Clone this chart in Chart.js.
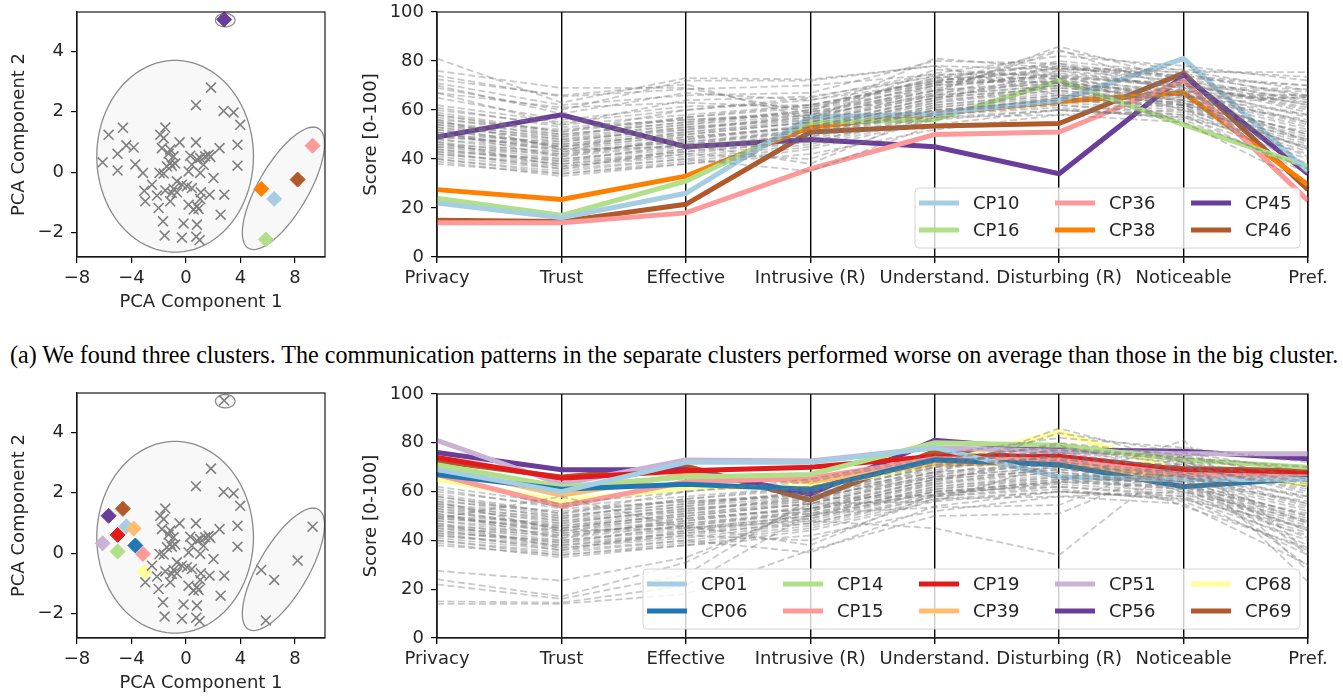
<!DOCTYPE html>
<html>
<head>
<meta charset="utf-8">
<script src="https://cdn.jsdelivr.net/npm/chart.js@4.4.0/dist/chart.umd.min.js"></script>
<style>
  body { margin: 0; background: #fff; width: 1343px; height: 698px; overflow: hidden; position: relative; }
  canvas { position: absolute; }
  #caption { position: absolute; left: 10px; top: 340px; font-family: "Liberation Serif", serif; font-size: 25px;
             line-height: 30px; white-space: nowrap; color: #000; transform-origin: 0 0; }
</style>
</head>
<body>
<canvas id="pcaTop" width="336" height="320" style="left:0;top:0"></canvas>
<canvas id="parTop" width="1003" height="320" style="left:340px;top:0"></canvas>
<div id="caption">(a) We found three clusters. The communication patterns in the separate clusters performed worse on average than those in the big cluster.</div>
<canvas id="pcaBottom" width="336" height="320" style="left:0;top:381px"></canvas>
<canvas id="parBottom" width="1003" height="320" style="left:340px;top:381px"></canvas>
<script>
// ---- data ----
const criteria = ['Privacy', 'Trust', 'Effective', 'Intrusive (R)', 'Understand.', 'Disturbing (R)', 'Noticeable', 'Pref.'];
const scoreTicks = [0, 20, 40, 60, 80, 100];
const pcaXTicks = [-8, -4, 0, 4, 8];
const pcaYTicks = [-2, 0, 2, 4];

// patterns outside the big cluster (highlighted in the first row)
const outlierNames = ['CP10', 'CP16', 'CP36', 'CP38', 'CP45', 'CP46'];
const outlierColors = ['#a6cee3', '#b2df8a', '#fb9a99', '#ff7f00', '#6a3d9a', '#b15928'];
const outlierScores = [
  [22, 16, 26, 57, 58.5, 64, 81, 35],
  [24, 17, 31, 55, 56, 72, 54, 37],
  [14, 14, 18, 36, 50, 51, 72, 23],
  [27.5, 23.5, 33, 53, 58.5, 63.5, 67, 29.5],
  [49, 58, 45, 48, 45, 34, 74, 34],
  [15, 14.5, 21.5, 51, 53.5, 54.5, 75, 27.5]
];
const outlierPCA = [[6.47, -0.88], [5.86, -2.22], [9.29, 0.88], [5.52, -0.55], [2.8, 5.05], [8.19, -0.24]];

// best patterns (highlighted in the second row)
const bestNames = ['CP01', 'CP06', 'CP14', 'CP15', 'CP19', 'CP39', 'CP51', 'CP56', 'CP68', 'CP69'];
const bestColors = ['#a6cee3', '#1f78b4', '#b2df8a', '#fb9a99', '#e31a1c', '#fdbf6f', '#cab2d6', '#6a3d9a', '#ffff99', '#b15928'];
const bestScores = [
  [69, 60, 72, 72, 78, 66, 65, 65],
  [67, 61, 63, 61, 73, 71, 62, 65.5],
  [71, 62, 66, 67, 80, 79, 73, 70],
  [67, 54, 64, 65.5, 73.5, 73, 67, 66],
  [74, 65.5, 68.5, 70, 74.5, 74.5, 69, 67.5],
  [70, 58.5, 67, 64, 71.5, 71.5, 65.5, 66],
  [81, 63, 73, 72.5, 78, 76.5, 75.5, 75.5],
  [76, 69, 69, 59, 81, 77, 76.5, 73.5],
  [65, 56, 61.5, 62, 71, 84.5, 68, 63],
  [72.5, 66, 70.5, 56.5, 76.5, 73.5, 69.5, 68.5]
];
const bestPCA = [[-4.38, 0.89], [-3.72, 0.26], [-5.02, 0.06], [-3.16, -0.02], [-5.02, 0.61],
                 [-3.84, 0.82], [-6.12, 0.33], [-5.68, 1.24], [-3.06, -0.61], [-4.63, 1.47]];

// all remaining patterns
const otherScores = [
  [58, 50, 55, 60, 70, 74, 70, 62], [55, 48, 52, 57, 68, 72, 68, 58], [52, 46, 50, 55, 66, 70, 66, 55],
  [50, 44, 48, 54, 65, 69, 65, 52], [48, 42, 46, 52, 64, 68, 64, 50], [46, 40, 44, 50, 62, 66, 63, 48],
  [45, 39, 43, 49, 61, 65, 62, 47], [44, 38, 42, 48, 60, 64, 61, 46], [42, 37, 41, 47, 59, 63, 60, 45],
  [40, 35, 40, 46, 58, 62, 59, 43], [38, 34, 39, 45, 57, 60, 58, 42], [60, 54, 58, 62, 72, 76, 72, 64],
  [62, 55, 60, 64, 74, 78, 74, 66], [56, 52, 56, 58, 66, 70, 64, 56], [54, 47, 53, 56, 70, 73, 71, 60],
  [53, 45, 49, 53, 63, 68, 62, 51], [51, 43, 47, 51, 61, 66, 63, 49], [49, 45, 51, 56, 67, 71, 67, 54],
  [47, 41, 49, 53, 65, 69, 66, 53], [43, 40, 45, 50, 62, 67, 64, 50], [41, 36, 44, 49, 60, 64, 62, 44],
  [39, 33, 38, 44, 56, 60, 57, 40], [57, 49, 54, 58, 69, 75, 70, 61], [59, 51, 57, 61, 71, 77, 73, 63],
  [55, 50, 55, 59, 70, 80, 75, 65], [50, 47, 53, 57, 68, 84, 76, 68], [52, 45, 51, 55, 67, 86, 72, 62],
  [46, 43, 47, 52, 64, 76, 69, 57], [48, 44, 50, 55, 66, 78, 71, 59], [44, 39, 46, 51, 63, 70, 68, 55],
  [61, 53, 56, 59, 68, 71, 66, 58], [42, 38, 43, 47, 58, 61, 56, 36], [45, 42, 48, 53, 65, 73, 60, 38],
  [53, 48, 54, 60, 73, 79, 67, 47], [49, 46, 52, 58, 71, 74, 63, 44], [56, 44, 45, 50, 60, 62, 58, 34],
  [47, 37, 42, 40, 57, 58, 55, 30], [58, 51, 60, 65, 75, 82, 78, 72], [54, 49, 57, 62, 72, 77, 74, 70],
  [51, 41, 46, 38, 59, 65, 61, 41], [43, 36, 40, 35, 54, 60, 57, 45], [40, 34, 38, 42, 52, 58, 60, 48]
];
const otherPCA = [
  [1.83, 2.80], [0.73, 2.22], [2.76, 2.03], [3.49, 1.98], [3.98, 1.57], [-1.52, 1.48], [-1.89, 1.24],
  [-1.64, 1.13], [-0.47, 0.99], [0.73, 0.99], [3.78, 0.91], [-1.77, 0.80], [-1.16, 0.75], [-1.28, 0.62],
  [-0.91, 0.53], [0.31, 0.55], [0.80, 0.42], [1.04, 0.47], [1.41, 0.53], [1.66, 0.58], [1.78, 0.51],
  [2.46, 0.80], [-1.16, 0.31], [-1.40, 0.20], [-1.04, 0.22], [-0.79, 0.29], [0.43, 0.25], [1.29, 0.25],
  [3.78, 0.22], [-1.94, -0.02], [-1.64, -0.04], [0.19, 0.03], [1.04, -0.02], [2.02, -0.19], [-0.67, -0.30],
  [-0.30, -0.41], [0.07, -0.46], [0.43, -0.52], [-1.52, -0.60], [-0.91, -0.55], [-0.67, -0.66],
  [-1.04, -0.68], [-2.50, -0.41], [1.09, -0.66], [1.73, -0.74], [2.81, -0.74], [-2.13, -0.77],
  [-1.16, -0.96], [-2.99, -0.96], [1.04, -0.88], [0.19, -1.07], [0.80, -1.12], [0.56, -1.23],
  [-2.01, -1.18], [0.92, -1.21], [2.54, -1.40], [-1.69, -1.62], [-0.18, -1.69], [0.80, -1.73],
  [-1.57, -2.09], [-0.30, -2.16], [0.75, -2.13], [1.00, -2.24]
];

// cluster outlines: centre and two conjugate half-axes, in PCA units
const clusterShapes = [
  { c: [-0.8, 0.53], a: [5.75, 0], b: [0, 3.17] },
  { c: [7.15, -0.53], a: [2.57, 1.98], b: [1.58, -0.42] },
  { c: [2.88, 5.03], a: [0.72, 0], b: [0, 0.22] }
];

// ---- helpers ----
Chart.defaults.font.family = 'DejaVu Sans';
Chart.defaults.font.size = 18;
Chart.defaults.color = '#262626';

const minus = v => String(v).replace('-', '\u2212');
const toXY = arr => arr.map(p => ({ x: p[0], y: p[1] }));

const framePlugin = {
  id: 'frame',
  afterDatasetsDraw(chart) {
    const { ctx, chartArea: a } = chart;
    ctx.save();
    ctx.strokeStyle = '#1a1a1a';
    ctx.lineWidth = 1.2;
    ctx.strokeRect(a.left, a.top, a.width, a.height);
    ctx.restore();
  }
};

const clusterPlugin = {
  id: 'clusters',
  beforeDatasetsDraw(chart) {
    const { ctx, chartArea: ca, scales: { x, y } } = chart;
    ctx.save();
    ctx.beginPath();
    ctx.rect(ca.left, ca.top, ca.width, ca.height);
    ctx.clip();
    clusterShapes.forEach(e => {
      ctx.beginPath();
      for (let i = 0; i <= 90; i++) {
        const t = i / 90 * 2 * Math.PI;
        const px = x.getPixelForValue(e.c[0] + e.a[0] * Math.cos(t) + e.b[0] * Math.sin(t));
        const py = y.getPixelForValue(e.c[1] + e.a[1] * Math.cos(t) + e.b[1] * Math.sin(t));
        if (i) ctx.lineTo(px, py); else ctx.moveTo(px, py);
      }
      ctx.closePath();
      ctx.fillStyle = 'rgba(240,240,240,0.45)';
      ctx.fill();
      ctx.strokeStyle = '#8c8c8c';
      ctx.lineWidth = 1.3;
      ctx.stroke();
    });
    ctx.restore();
  }
};

// matplotlib-like legend, filled column by column, two rows
const colLegend = {
  id: 'colLegend',
  afterDatasetsDraw(chart) {
    const items = chart.data.datasets.filter(d => d.label);
    const { ctx, chartArea: ca } = chart;
    const rows = 2, cols = Math.ceil(items.length / rows), pitch = 136;
    const w = cols * pitch - 23, h = 60;
    const x0 = ca.right - 8 - w, y0 = ca.bottom - 9 - h;
    ctx.save();
    ctx.beginPath();
    ctx.roundRect(x0, y0, w, h, 4);
    ctx.fillStyle = 'rgba(255,255,255,0.8)';
    ctx.fill();
    ctx.strokeStyle = '#d4d4d4';
    ctx.lineWidth = 1;
    ctx.stroke();
    ctx.font = '18px "DejaVu Sans"';
    ctx.textBaseline = 'middle';
    items.forEach((it, i) => {
      const hx = x0 + 4 + Math.floor(i / rows) * pitch;
      const hy = y0 + 15 + (i % rows) * 27;
      ctx.beginPath();
      ctx.moveTo(hx, hy);
      ctx.lineTo(hx + 40, hy);
      ctx.strokeStyle = it.borderColor;
      ctx.lineWidth = 5;
      ctx.stroke();
      ctx.fillStyle = '#262626';
      ctx.fillText(it.label, hx + 54, hy + 1);
    });
    ctx.restore();
  }
};

function fixedY(width) {
  return s => { s.width = width; s.paddingTop = s.paddingBottom = 0; };
}
function fixedX(height) {
  return s => { s.height = height; s.paddingLeft = s.paddingRight = 0; };
}
function tickList(values) {
  return s => { s.ticks = values.map(v => ({ value: v })); };
}

function pcaChart(id, greyPts, diamondPts, diamondColors) {
  new Chart(document.getElementById(id), {
    type: 'scatter',
    data: {
      datasets: [{
        data: toXY(greyPts),
        pointStyle: 'crossRot', pointRadius: 7, borderColor: '#808080', borderWidth: 1.6
      }, {
        data: toXY(diamondPts),
        pointStyle: 'rectRot', pointRadius: 7.5, backgroundColor: diamondColors, borderColor: diamondColors, borderWidth: 1
      }]
    },
    options: {
      responsive: false, animation: false,
      layout: { padding: { top: 12, right: 11, left: 0, bottom: 0 } },
      plugins: { legend: { display: false }, tooltip: { enabled: false } },
      scales: {
        x: {
          min: -8, max: 10.2,
          afterBuildTicks: tickList(pcaXTicks), afterFit: fixedX(63),
          ticks: { callback: minus, padding: 5, maxRotation: 0 },
          grid: { drawOnChartArea: false, tickLength: 6, color: '#000', lineWidth: 1.2 },
          border: { color: '#1a1a1a', width: 1.2 },
          title: { display: true, text: 'PCA Component 1', padding: { top: 0, bottom: 6.5 } }
        },
        y: {
          min: -2.8, max: 5.3,
          afterBuildTicks: tickList(pcaYTicks), afterFit: fixedY(77),
          ticks: { callback: minus, padding: 7 },
          grid: { drawOnChartArea: false, tickLength: 6, color: '#000', lineWidth: 1.2 },
          border: { color: '#1a1a1a', width: 1.2 },
          title: { display: true, text: 'PCA Component 2', padding: { top: 8.5, bottom: 0 } }
        }
      }
    },
    plugins: [clusterPlugin, framePlugin]
  });
}

function parallelChart(id, greyRows, names, colors, rows, padTop) {
  const grey = greyRows.map(r => ({
    data: r, borderColor: 'rgba(120,120,120,0.4)', borderWidth: 1.8, borderDash: [7, 3.5], pointRadius: 0
  }));
  const highlighted = names.map((n, i) => ({
    label: n, data: rows[i], borderColor: colors[i], borderWidth: 5, pointRadius: 0
  }));
  new Chart(document.getElementById(id), {
    type: 'line',
    data: { labels: criteria, datasets: grey.concat(highlighted) },
    options: {
      responsive: false, animation: false,
      layout: { padding: { top: padTop, right: 35, left: 0, bottom: 0 } },
      plugins: { legend: { display: false }, tooltip: { enabled: false } },
      scales: {
        x: {
          offset: false, afterFit: fixedX(63),
          ticks: { padding: 5, maxRotation: 0, autoSkip: false },
          grid: { drawOnChartArea: true, tickLength: 6, color: '#000', lineWidth: 1.4 },
          border: { color: '#1a1a1a', width: 1.2 }
        },
        y: {
          min: 0, max: 100,
          afterBuildTicks: tickList(scoreTicks), afterFit: fixedY(97),
          ticks: { padding: 7 },
          grid: { drawOnChartArea: false, tickLength: 6, color: '#000', lineWidth: 1.2 },
          border: { color: '#1a1a1a', width: 1.2 },
          title: { display: true, text: 'Score [0-100]', padding: { top: 21, bottom: 0 } }
        }
      }
    },
    plugins: [framePlugin, colLegend]
  });
}

pcaChart('pcaTop', otherPCA.concat(bestPCA), outlierPCA, outlierColors);
parallelChart('parTop', otherScores.concat(bestScores), outlierNames, outlierColors, outlierScores, 12);
pcaChart('pcaBottom', otherPCA.concat(outlierPCA), bestPCA, bestColors);
parallelChart('parBottom', otherScores.concat(outlierScores), bestNames, bestColors, bestScores, 13);

// squeeze the caption to the width it has in the figure
const cap = document.getElementById('caption');
cap.style.transform = 'scaleX(' + (1328 / cap.scrollWidth) + ')';
</script>
</body>
</html>
